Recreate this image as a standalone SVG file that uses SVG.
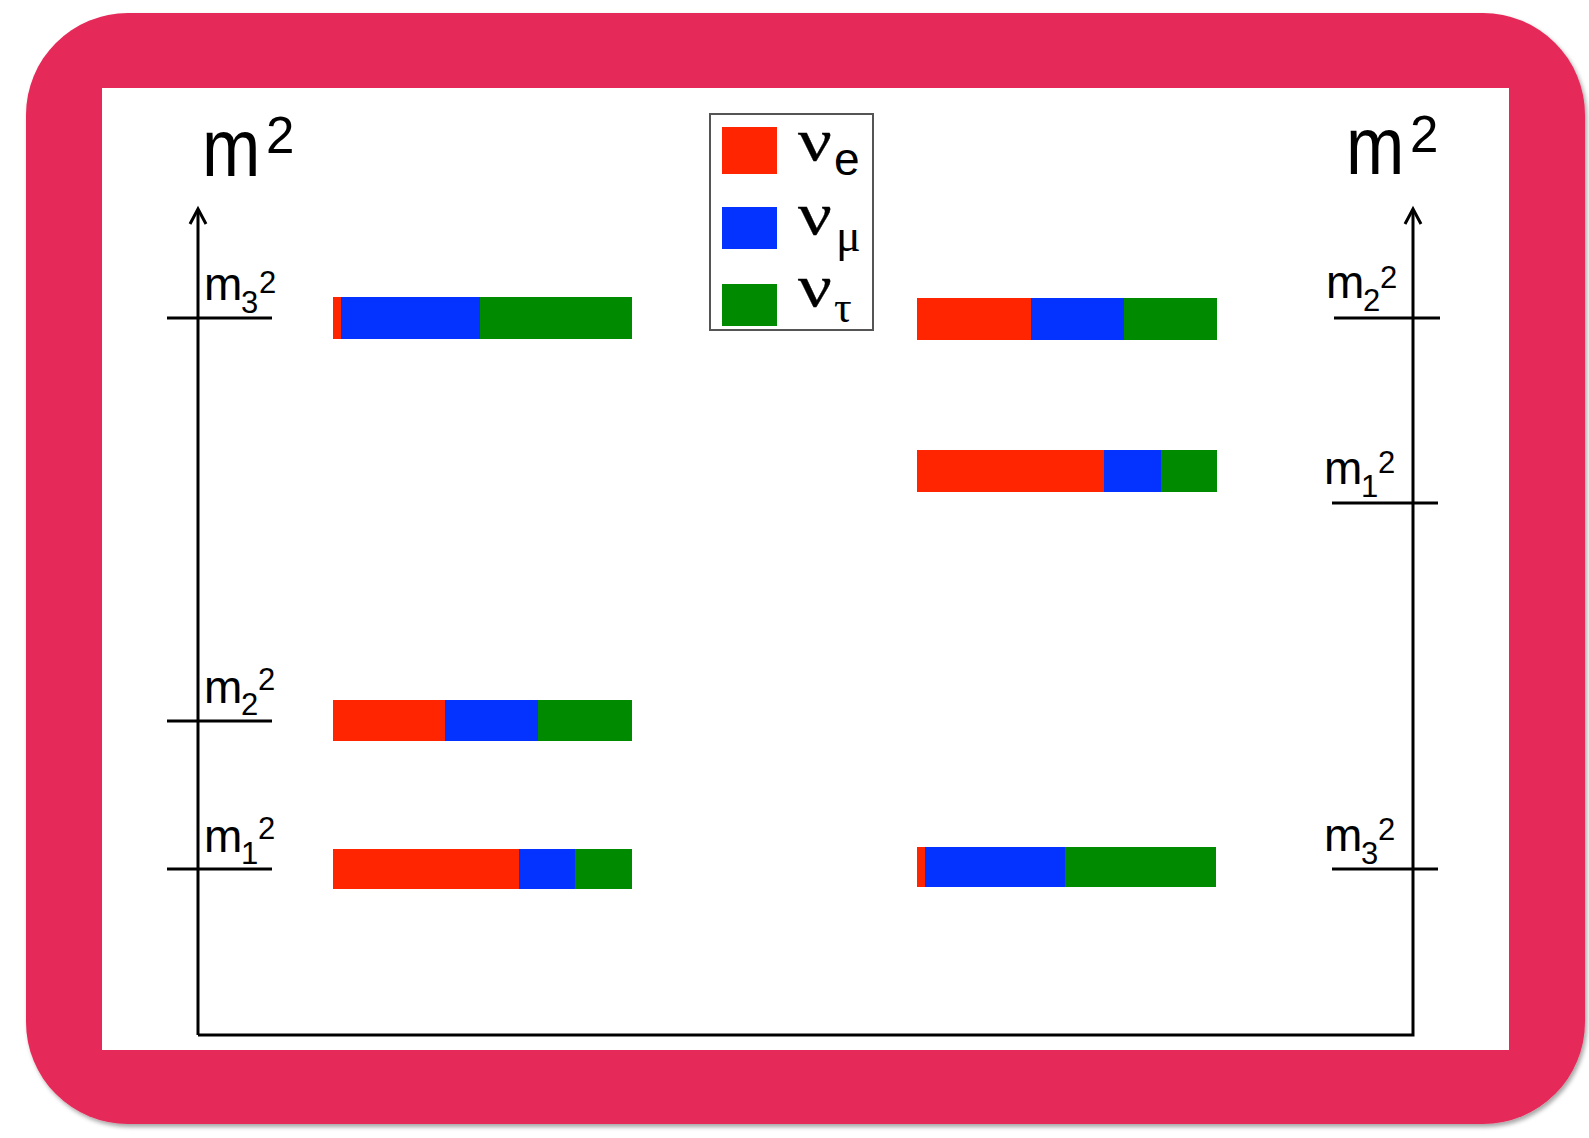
<svg xmlns="http://www.w3.org/2000/svg" width="1589" height="1138" viewBox="0 0 1589 1138">
  <style>
    .axis { fill: none; stroke: #000; stroke-width: 3; }
    .tick { stroke: #000; stroke-width: 3; }
    .lbl { font-family: "Liberation Sans", Arial, sans-serif; fill: #000; }
    .ser { font-family: "Liberation Serif", "Times New Roman", serif; fill: #000; }
    .nu { font-family: "Liberation Serif", "Times New Roman", serif; fill: #000; stroke: #000; stroke-width: 0.35; font-size: 60px; }
    .re { fill: #FF2500; }
    .mu { fill: #0433FF; }
    .ta { fill: #008A00; }
  </style>
  <defs>
    <filter id="shadow" x="-5%" y="-5%" width="110%" height="110%">
      <feDropShadow dx="2" dy="3" stdDeviation="2" flood-color="#000" flood-opacity="0.35"/>
    </filter>
  </defs>

  <!-- frame -->
  <rect x="26" y="13" width="1559" height="1111" rx="102" ry="102" fill="#E52A5A" filter="url(#shadow)"/>
  <rect x="102" y="88" width="1407" height="962" fill="#fff"/>

  <!-- axes and level ticks -->
  <g id="connectors">
    <polyline class="axis" points="198,1035 198,210"/>
    <polyline class="axis" points="198,1035 1413,1035 1413,210"/>
    <polyline class="axis" points="190,224 198,209 206,224"/>
    <polyline class="axis" points="1405,224 1413,209 1421,224"/>
    <line class="tick" x1="167" y1="318" x2="272" y2="318"/>
    <line class="tick" x1="167" y1="721" x2="272" y2="721"/>
    <line class="tick" x1="167" y1="869" x2="272" y2="869"/>
    <line class="tick" x1="1334" y1="318" x2="1440" y2="318"/>
    <line class="tick" x1="1332" y1="503" x2="1438" y2="503"/>
    <line class="tick" x1="1332" y1="869" x2="1438" y2="869"/>
  </g>

  <!-- axis titles -->
  <g id="title-left">
    <text class="lbl" transform="translate(202,176) scale(1,1.16)" font-size="70">m</text>
    <text class="lbl" x="266" y="153" font-size="51">2</text>
  </g>
  <g id="title-right">
    <text class="lbl" transform="translate(1346,174) scale(1,1.16)" font-size="70">m</text>
    <text class="lbl" x="1410" y="152" font-size="51">2</text>
  </g>

  <!-- level labels, normal ordering -->
  <g id="label-left-m3">
    <text class="lbl" x="204" y="300" font-size="46">m<tspan x="241" y="313" font-size="31">3</tspan><tspan x="259" y="293" font-size="31">2</tspan></text>
  </g>
  <g id="label-left-m2">
    <text class="lbl" x="204" y="703" font-size="46">m<tspan x="241" y="715" font-size="31">2</tspan><tspan x="258" y="690" font-size="31">2</tspan></text>
  </g>
  <g id="label-left-m1">
    <text class="lbl" x="204" y="852" font-size="46">m<tspan x="241" y="864" font-size="31">1</tspan><tspan x="258" y="839" font-size="31">2</tspan></text>
  </g>

  <!-- level labels, inverted ordering -->
  <g id="label-right-m2">
    <text class="lbl" x="1326" y="298" font-size="46">m<tspan x="1363" y="311" font-size="31">2</tspan><tspan x="1380" y="288" font-size="31">2</tspan></text>
  </g>
  <g id="label-right-m1">
    <text class="lbl" x="1324" y="484" font-size="46">m<tspan x="1361" y="497" font-size="31">1</tspan><tspan x="1378" y="473" font-size="31">2</tspan></text>
  </g>
  <g id="label-right-m3">
    <text class="lbl" x="1324" y="851" font-size="46">m<tspan x="1361" y="864" font-size="31">3</tspan><tspan x="1378" y="840" font-size="31">2</tspan></text>
  </g>

  <!-- flavour content bars, normal ordering -->
  <g id="bar-left-m3">
    <rect class="re" x="333" y="297" width="8" height="42"/>
    <rect class="mu" x="341" y="297" width="139" height="42"/>
    <rect class="ta" x="480" y="297" width="152" height="42"/>
  </g>
  <g id="bar-left-m2">
    <rect class="re" x="333" y="700" width="112" height="41"/>
    <rect class="mu" x="445" y="700" width="93" height="41"/>
    <rect class="ta" x="538" y="700" width="94" height="41"/>
  </g>
  <g id="bar-left-m1">
    <rect class="re" x="333" y="849" width="186" height="40"/>
    <rect class="mu" x="519" y="849" width="56" height="40"/>
    <rect class="ta" x="575" y="849" width="57" height="40"/>
  </g>

  <!-- flavour content bars, inverted ordering -->
  <g id="bar-right-m2">
    <rect class="re" x="917" y="298" width="114" height="42"/>
    <rect class="mu" x="1031" y="298" width="93" height="42"/>
    <rect class="ta" x="1124" y="298" width="93" height="42"/>
  </g>
  <g id="bar-right-m1">
    <rect class="re" x="917" y="450" width="187" height="42"/>
    <rect class="mu" x="1104" y="450" width="57" height="42"/>
    <rect class="ta" x="1161" y="450" width="56" height="42"/>
  </g>
  <g id="bar-right-m3">
    <rect class="re" x="917" y="847" width="8" height="40"/>
    <rect class="mu" x="925" y="847" width="140" height="40"/>
    <rect class="ta" x="1065" y="847" width="151" height="40"/>
  </g>

  <!-- legend -->
  <g id="legend">
    <rect x="710" y="114" width="163" height="216" fill="#fff" stroke="#555" stroke-width="2"/>
    <rect class="re" x="722" y="127" width="55" height="47"/>
    <rect class="mu" x="722" y="207" width="55" height="42"/>
    <rect class="ta" x="722" y="284" width="55" height="42"/>
    <text class="nu" transform="translate(798,160) scale(1.25,1)">ν</text>
    <text class="lbl" x="834" y="175" font-size="46">e</text>
    <text class="nu" transform="translate(798,234) scale(1.25,1)">ν</text>
    <text class="ser" x="836" y="251" font-size="46">μ</text>
    <text class="nu" transform="translate(798,306) scale(1.25,1)">ν</text>
    <text class="ser" x="834" y="322" font-size="44">τ</text>
  </g>
</svg>
